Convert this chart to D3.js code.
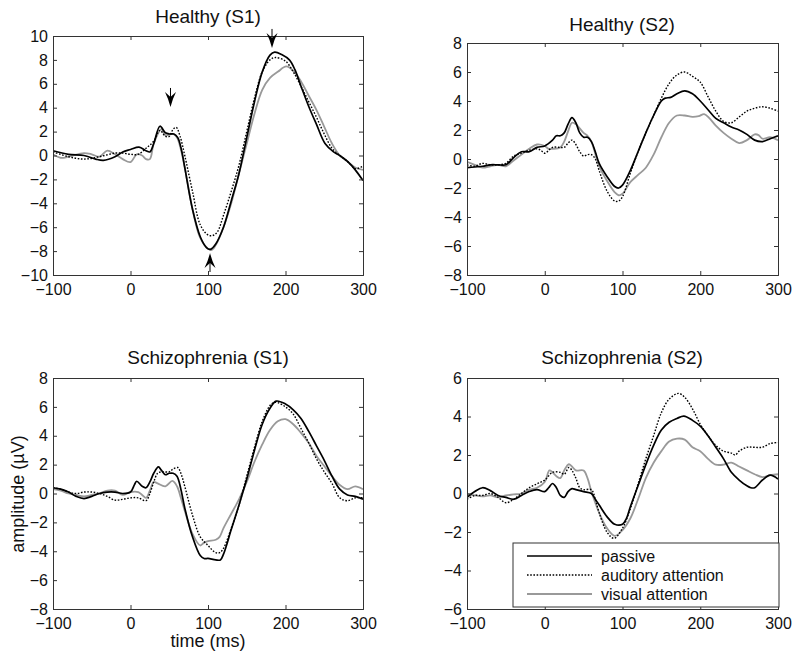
<!DOCTYPE html>
<html><head><meta charset="utf-8">
<script src="https://cdn.jsdelivr.net/npm/d3@7"></script>
<style>
body{margin:0;background:#fff;}
text{font-family:"Liberation Sans",Arial,sans-serif;fill:#111;}
</style></head>
<body><svg id="c" width="800" height="663"></svg>
<script>
// ---- data: [time (ms), amplitude (µV)] ----
const h1Passive=[[-100,0.4],[-80,0.1],[-60,0],[-45,-0.3],[-35,-0.4],[-20,-0.1],[-10,0.3],[0,0.5],[11,0.7],[20,0.4],[25,0.3],[30,1.0],[38,2.45],[45,1.9],[50,1.8],[56,1.8],[61,1.5],[66,0.4],[70,-1.0],[80,-4.5],[90,-6.8],[98,-7.7],[103,-7.85],[110,-7.4],[120,-6.0],[130,-3.8],[140,-1.5],[150,1.5],[160,4.5],[170,7.0],[180,8.4],[186,8.65],[195,8.45],[205,8.0],[212,7.2],[220,5.8],[230,4.1],[240,2.6],[251,1.0],[262,0.3],[270,0],[280,-0.5],[290,-1.2],[300,-2.1]];
const h1Auditory=[[-100,0.3],[-80,-0.1],[-60,-0.3],[-40,-0.1],[-20,0.2],[-10,0.2],[0,0.1],[10,0.1],[20,0.6],[30,1.2],[38,2.1],[45,1.6],[50,1.6],[55,2.2],[59,2.35],[64,1.6],[70,0.0],[80,-3.0],[90,-5.8],[100,-6.65],[106,-6.7],[112,-6.4],[120,-5.0],[130,-3.0],[140,-0.8],[150,2.0],[160,4.8],[170,7.0],[180,8.0],[187,8.2],[200,7.9],[210,7.0],[220,5.8],[230,4.5],[240,3.2],[250,1.8],[260,0.6],[270,0],[280,-0.5],[290,-1.1],[300,-0.9]];
const h1Visual=[[-100,0.1],[-90,-0.2],[-80,-0.1],[-60,0.2],[-50,0.1],[-40,-0.1],[-30,0.4],[-20,0.1],[-10,-0.3],[0,-0.55],[8,0.1],[15,0.0],[20,-0.3],[25,-0.3],[30,1.0],[40,2.2],[45,1.7],[55,1.8],[60,1.5],[65,0.5],[70,-1.0],[80,-4.5],[90,-6.9],[100,-7.8],[105,-7.9],[110,-7.5],[120,-6.0],[130,-4.0],[140,-1.5],[150,1.0],[160,3.5],[170,5.5],[180,6.5],[190,7.0],[201,7.45],[210,7.1],[220,6.2],[230,5.0],[240,3.8],[250,2.4],[260,1.0],[270,0],[280,-0.5],[290,-1.0],[300,-1.2]];

const h2Passive=[[-100,-0.6],[-90,-0.55],[-80,-0.5],[-70,-0.4],[-60,-0.4],[-50,-0.4],[-40,0.1],[-30,0.5],[-20,0.5],[-10,0.8],[0,0.9],[10,1.3],[15,1.6],[20,1.6],[25,1.8],[30,2.4],[35,2.85],[40,2.5],[45,1.8],[50,1.5],[55,1.5],[60,1.2],[65,0.5],[70,-0.3],[80,-1.2],[90,-1.9],[95,-2.0],[100,-1.8],[110,-0.8],[120,0.5],[130,1.8],[140,3.0],[150,4.0],[155,4.2],[162,4.25],[170,4.5],[180,4.7],[190,4.5],[200,4.0],[210,3.4],[220,2.8],[230,2.5],[240,2.2],[250,2.0],[260,1.7],[270,1.3],[280,1.2],[290,1.4],[300,1.6]];
const h2Auditory=[[-100,-0.4],[-90,-0.5],[-80,-0.3],[-70,-0.4],[-60,-0.4],[-50,-0.3],[-40,0.2],[-30,0.4],[-20,0.6],[-10,0.7],[-5,0.6],[0,0.4],[10,0.8],[20,0.8],[25,0.8],[30,1.1],[35,1.3],[40,1.0],[45,0.5],[50,0.2],[55,0.3],[60,0.3],[65,0.0],[70,-0.8],[80,-2.2],[90,-2.9],[95,-2.9],[100,-2.6],[110,-1.0],[120,0.5],[130,1.8],[140,3.0],[150,4.2],[160,5.2],[170,5.8],[180,6.0],[190,5.7],[200,5.3],[210,4.3],[220,3.3],[230,2.6],[240,2.5],[250,2.9],[260,3.3],[270,3.5],[280,3.6],[290,3.5],[300,3.3]];
const h2Visual=[[-100,-0.2],[-90,-0.4],[-80,-0.6],[-70,-0.5],[-60,-0.4],[-50,-0.5],[-40,-0.1],[-30,0.3],[-20,0.7],[-10,1.0],[0,0.9],[5,0.7],[10,0.7],[20,0.8],[25,1.2],[30,1.9],[35,2.5],[40,2.4],[50,1.8],[55,1.6],[60,1.2],[70,-0.5],[80,-1.5],[90,-2.3],[95,-2.5],[100,-2.4],[110,-1.6],[120,-1.1],[130,-0.6],[140,0.3],[150,1.5],[160,2.5],[170,3.0],[180,3.0],[190,2.9],[198,2.95],[205,3.1],[212,2.8],[220,2.3],[230,1.8],[240,1.4],[250,1.1],[260,1.3],[270,1.7],[275,1.65],[280,1.4],[290,1.5],[300,1.3]];

const s1Passive=[[-100,0.4],[-90,0.3],[-80,0.1],[-70,-0.2],[-60,-0.35],[-50,-0.2],[-40,0.0],[-30,0.1],[-20,0.1],[-10,0.0],[0,0.1],[5,0.6],[8,0.85],[15,0.5],[20,0.4],[25,0.8],[30,1.4],[36,1.84],[40,1.6],[45,1.3],[50,1.4],[55,1.4],[60,1.2],[65,0.3],[70,-1.0],[80,-3.0],[90,-4.3],[95,-4.5],[100,-4.5],[110,-4.6],[116,-4.6],[120,-4.2],[130,-2.5],[140,-0.8],[150,1.0],[160,3.0],[170,4.8],[180,5.9],[188,6.4],[200,6.2],[210,5.8],[220,5.2],[230,4.3],[240,3.3],[250,2.3],[260,1.2],[270,0.3],[280,-0.1],[290,-0.2],[300,-0.4]];
const s1Auditory=[[-100,0.4],[-90,0.3],[-80,0.1],[-70,0.0],[-60,0.1],[-50,0.1],[-40,0.0],[-30,-0.2],[-20,-0.46],[-10,-0.4],[0,-0.3],[10,-0.3],[20,-0.5],[25,0.0],[30,0.8],[35,1.4],[40,1.5],[50,1.5],[55,1.7],[61,1.8],[65,1.4],[70,0.5],[80,-1.5],[90,-3.0],[100,-3.6],[110,-4.1],[115,-4.1],[120,-3.8],[130,-2.4],[140,-0.8],[150,1.2],[160,3.2],[170,5.0],[180,6.1],[185,6.3],[190,6.3],[200,6.0],[210,5.5],[220,4.5],[230,3.5],[240,2.4],[250,1.5],[260,0.7],[270,-0.3],[280,-0.5],[290,-0.3],[300,-0.3]];
const s1Visual=[[-100,0.3],[-90,0.2],[-80,0.0],[-70,-0.1],[-60,-0.2],[-50,-0.1],[-40,0.0],[-30,0.2],[-20,0.2],[-10,-0.1],[0,0.1],[10,0.1],[15,-0.1],[20,-0.3],[25,0.2],[30,0.8],[35,0.7],[45,0.5],[54,0.87],[60,0.5],[65,-0.3],[70,-1.2],[80,-2.8],[90,-3.6],[95,-3.4],[100,-3.3],[110,-3.2],[115,-3.0],[120,-2.4],[130,-1.4],[140,-0.4],[150,0.8],[160,2.2],[170,3.4],[180,4.4],[190,5.0],[200,5.15],[210,4.8],[220,4.2],[230,3.5],[240,2.6],[250,1.9],[260,1.2],[270,0.6],[280,0.3],[290,0.5],[300,0.3]];

const s2Passive=[[-100,-0.2],[-90,0.1],[-80,0.3],[-70,0.15],[-60,-0.1],[-50,-0.2],[-40,-0.3],[-30,-0.1],[-20,0.1],[-10,0.2],[0,0.1],[5,0.3],[10,0.52],[15,0.3],[20,-0.1],[25,-0.2],[30,0.1],[35,0.25],[40,0.2],[50,0.1],[60,0.0],[65,-0.3],[70,-0.6],[80,-1.2],[90,-1.6],[100,-1.6],[105,-1.3],[110,-0.7],[120,0.4],[130,1.5],[140,2.5],[150,3.3],[160,3.7],[170,3.9],[179,4.02],[190,3.8],[200,3.5],[210,3.0],[220,2.4],[230,1.8],[240,1.1],[250,0.7],[260,0.4],[265,0.3],[270,0.3],[280,0.7],[290,0.95],[300,0.75]];
const s2Auditory=[[-100,-0.3],[-90,-0.1],[-80,-0.1],[-70,0.0],[-60,-0.2],[-50,-0.48],[-40,-0.3],[-30,0.0],[-20,0.3],[-10,0.5],[0,0.7],[10,1.1],[20,1.1],[25,1.0],[31,1.35],[35,1.2],[40,0.8],[45,0.3],[50,0.2],[60,0.2],[65,-0.3],[70,-1.0],[80,-2.0],[89,-2.33],[100,-1.8],[110,-0.8],[120,0.5],[130,1.8],[140,3.0],[150,4.2],[160,4.9],[172,5.2],[180,5.0],[190,4.4],[200,3.6],[210,3.0],[220,2.5],[230,2.2],[240,2.1],[245,2.0],[250,2.2],[260,2.4],[270,2.4],[280,2.4],[290,2.6],[300,2.65]];
const s2Visual=[[-100,0.0],[-90,-0.1],[-80,-0.15],[-70,-0.1],[-60,-0.2],[-50,-0.1],[-40,-0.05],[-30,0.0],[-20,0.2],[-10,0.3],[0,0.6],[6,1.2],[10,1.1],[15,0.9],[20,0.8],[25,1.2],[31,1.52],[35,1.4],[40,1.2],[50,1.2],[55,0.8],[60,0.1],[70,-1.0],[80,-1.8],[90,-2.2],[100,-1.9],[110,-1.3],[120,-0.3],[130,0.8],[140,1.6],[150,2.2],[160,2.7],[170,2.85],[180,2.8],[190,2.4],[200,2.2],[210,1.8],[220,1.5],[230,1.5],[240,1.6],[250,1.4],[260,1.2],[270,1.0],[280,0.85],[290,0.95],[300,1.0]];

const xTicks=[-100,0,100,200,300];
const yTicksH1=[-10,-8,-6,-4,-2,0,2,4,6,8,10];
const yTicks8=[-8,-6,-4,-2,0,2,4,6,8];
const yTicks6=[-6,-4,-2,0,2,4,6];
const titles=["Healthy (S1)","Healthy (S2)","Schizophrenia (S1)","Schizophrenia (S2)"];
const seriesNames=["passive","auditory attention","visual attention"];
// arrow annotations on panel 1: tip at [time, amplitude], pointing direction
const arrowMarks=[[51.6,4.06,"down"],[102.6,-8.16,"up"],[182.6,9.0,"down"]];

const svg=d3.select("#c");
const styles=[
  {stroke:"#000",width:1.7,dash:null},
  {stroke:"#000",width:1.4,dash:"1.6,1.6"},
  {stroke:"#999",width:1.8,dash:null}
];

const panels=[
  {x0:53,x1:363,y0:36,y1:275,dom:[-10,10],yt:yTicksH1,data:[h1Passive,h1Auditory,h1Visual],title:titles[0],tx:208,ty:23},
  {x0:467,x1:778,y0:43,y1:275,dom:[-8,8],yt:yTicks8,data:[h2Passive,h2Auditory,h2Visual],title:titles[1],tx:622,ty:31},
  {x0:53,x1:363,y0:378,y1:609,dom:[-8,8],yt:yTicks8,data:[s1Passive,s1Auditory,s1Visual],title:titles[2],tx:208,ty:364},
  {x0:467,x1:778,y0:378,y1:609,dom:[-6,6],yt:yTicks6,data:[s2Passive,s2Auditory,s2Visual],title:titles[3],tx:622,ty:364}
];

panels.forEach((p,pi)=>{
  const x=d3.scaleLinear().domain([-100,300]).range([p.x0,p.x1]);
  const y=d3.scaleLinear().domain(p.dom).range([p.y1,p.y0]);
  const g=svg.append("g");
  const cid="clip"+pi;
  svg.append("clipPath").attr("id",cid).append("rect")
    .attr("x",p.x0).attr("y",p.y0).attr("width",p.x1-p.x0).attr("height",p.y1-p.y0);
  const line=d3.line().x(d=>x(d[0])).y(d=>y(d[1])).curve(d3.curveCatmullRom.alpha(0.5));
  [2,1,0].forEach(si=>{
    const s=styles[si];
    g.append("path").datum(p.data[si]).attr("d",line).attr("fill","none")
      .attr("stroke",s.stroke).attr("stroke-width",s.width)
      .attr("stroke-dasharray",s.dash).attr("clip-path",`url(#${cid})`)
      .attr("stroke-linejoin","round");
  });
  const tl=-4;
  const ax=[
    d3.axisBottom(x).tickValues(xTicks).tickSize(tl).tickPadding(8),
    d3.axisTop(x).tickValues(xTicks).tickSize(tl).tickFormat(""),
    d3.axisLeft(y).tickValues(p.yt).tickSize(tl).tickPadding(8),
    d3.axisRight(y).tickValues(p.yt).tickSize(tl).tickFormat("")
  ];
  const tr=[`translate(0,${p.y1})`,`translate(0,${p.y0})`,`translate(${p.x0},0)`,`translate(${p.x1},0)`];
  ax.forEach((a,i)=>{
    const ag=g.append("g").attr("transform",tr[i]).call(a);
    ag.selectAll("path,line").attr("stroke","#333").attr("stroke-width",1);
    ag.selectAll("text").attr("font-size",16).attr("font-family","Liberation Sans, Arial, sans-serif").attr("fill","#111");
    if(i===0) ag.selectAll("text").attr("dy",0).attr("y",20);
    if(i===2) ag.selectAll("text").attr("x",-5);
  });
  g.append("text").attr("x",p.tx).attr("y",p.ty).attr("text-anchor","middle")
    .attr("font-size",19).text(p.title);

  if(pi===0){
    arrowMarks.forEach(([t,v,dir])=>{
      const cx=x(t), tip=y(v);
      const s= dir==="down"?1:-1;
      const back=tip-s*15, notch=tip-s*10;
      const pth=`M${cx},${tip} Q${cx-2},${tip-s*8} ${cx-5.5},${back} L${cx},${notch} L${cx+5.5},${back} Q${cx+2},${tip-s*8} ${cx},${tip} Z`;
      g.append("path").attr("d",pth).attr("fill","#000");
      g.append("line").attr("x1",cx).attr("x2",cx).attr("y1",notch).attr("y2",tip-s*19)
        .attr("stroke","#000").attr("stroke-width",1);
    });
  }
  if(pi===3){
    const lx0=513, ly0=543, lw=266, lh=64;
    const lg=g.append("g");
    lg.append("rect").attr("x",lx0).attr("y",ly0).attr("width",lw).attr("height",lh)
      .attr("fill","#fff").attr("stroke","#333").attr("stroke-width",1);
    seriesNames.forEach((n,i)=>{
      const yy=556+i*19;
      const s=styles[i];
      lg.append("line").attr("x1",527).attr("x2",592).attr("y1",yy).attr("y2",yy)
        .attr("stroke",s.stroke).attr("stroke-width",s.width).attr("stroke-dasharray",s.dash);
      lg.append("text").attr("x",601).attr("y",yy).attr("dy","0.35em").attr("font-size",16).text(n);
    });
  }
});

svg.append("text").attr("transform","translate(24,494) rotate(-90)").attr("text-anchor","middle")
  .attr("font-size",18).text("amplitude (µV)");
svg.append("text").attr("x",208).attr("y",647).attr("text-anchor","middle")
  .attr("font-size",18).text("time (ms)");
</script></body></html>
